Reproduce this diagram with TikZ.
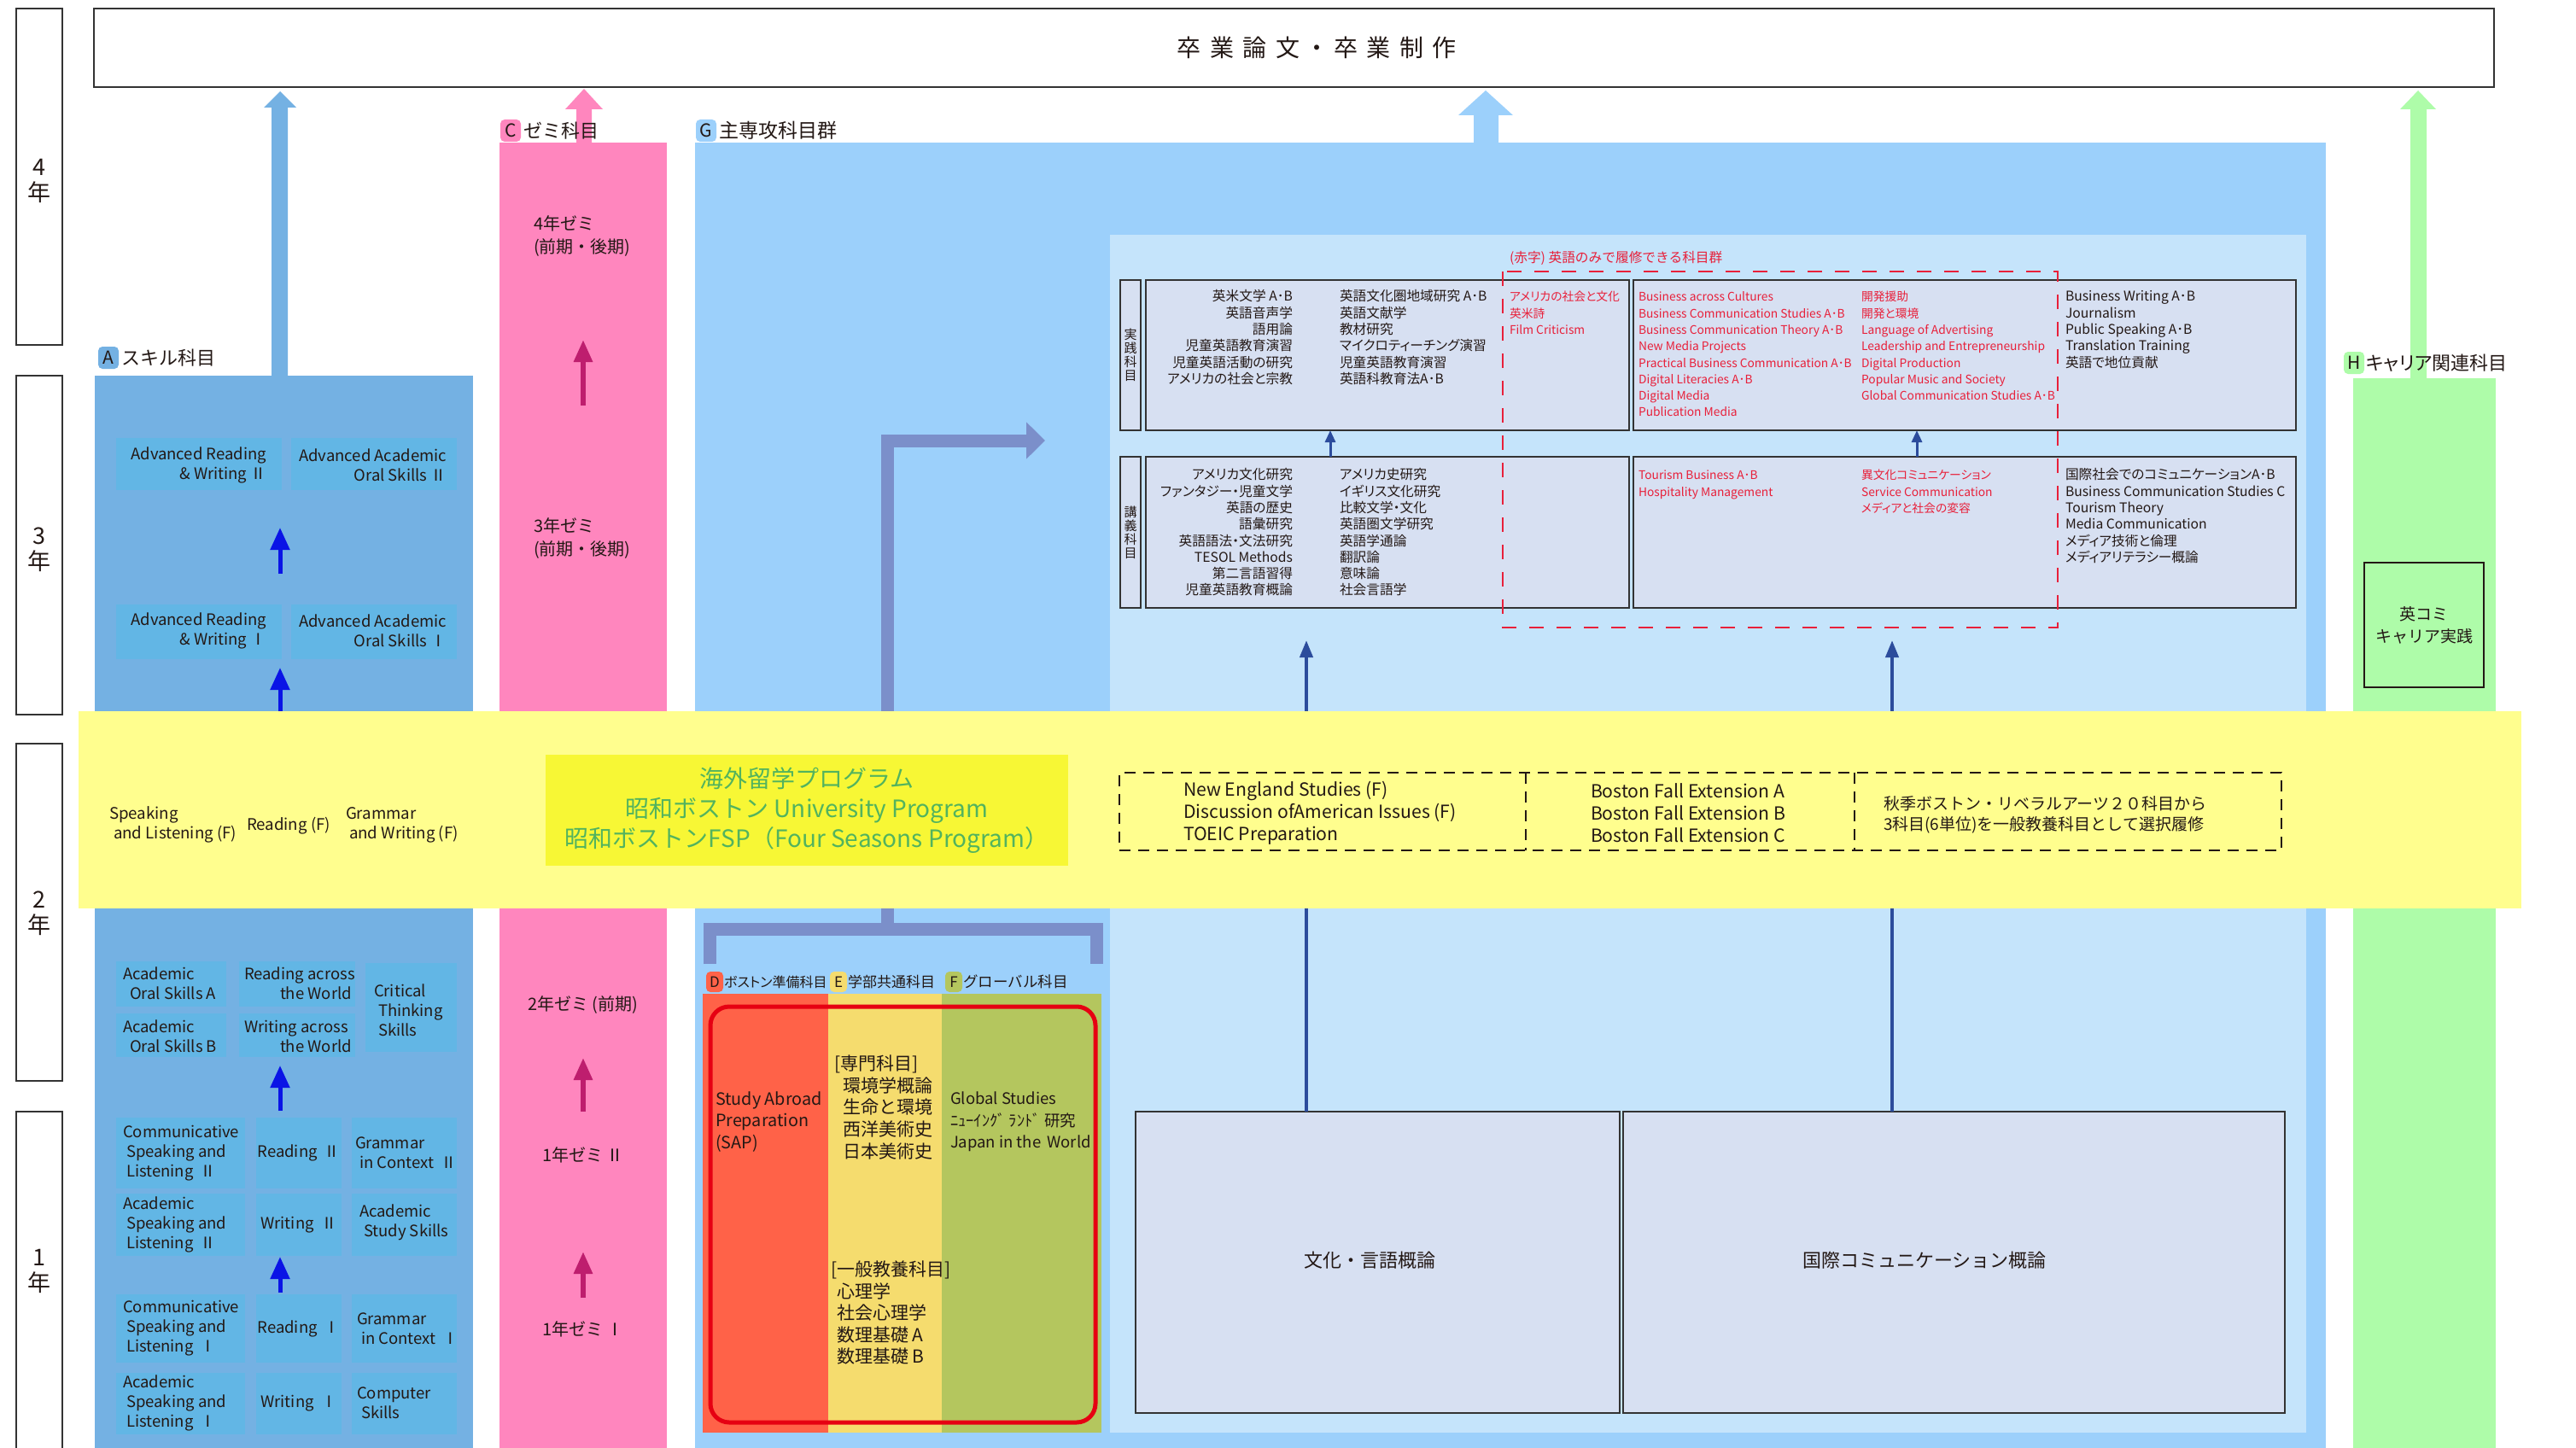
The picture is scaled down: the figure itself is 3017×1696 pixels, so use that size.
\documentclass[tikz,border=0pt]{standalone}
\usepackage{fontspec}
\setmainfont{Noto Sans CJK JP}
\newfontfamily\pf{Noto Sans CJK JP}[RawFeature=+palt]
\usetikzlibrary{arrows.meta,fit}
\definecolor{cA}{HTML}{74B1E3}
\definecolor{cAbox}{HTML}{62B6E5}
\definecolor{cC}{HTML}{FF86BE}
\definecolor{cG}{HTML}{9CD0FB}
\definecolor{cGin}{HTML}{C5E4FB}
\definecolor{cH}{HTML}{AEFCA9}
\definecolor{cY}{HTML}{FFFE8E}
\definecolor{cYb}{HTML}{F7F735}
\definecolor{cGreenT}{HTML}{52B35E}
\definecolor{cD}{HTML}{FF6248}
\definecolor{cE}{HTML}{F5DC6E}
\definecolor{cF}{HTML}{B4C65E}
\definecolor{cRed}{HTML}{E8203A}
\definecolor{cRedBox}{HTML}{E60012}
\definecolor{cBox}{HTML}{D7E0F2}
\definecolor{cSlate}{HTML}{7B8FCA}
\definecolor{cNavy}{HTML}{2C4C9C}
\definecolor{cBlueArr}{HTML}{0A14E6}
\definecolor{cMag}{HTML}{BE1E6E}
\definecolor{cTxt}{HTML}{231815}
\definecolor{cDark}{HTML}{333333}
\newcommand{\fs}[2]{\fontsize{#1pt}{#2pt}\selectfont}
\tikzset{
  rct/.style={inner sep=0pt, outer sep=0pt},
  tx/.style={inner sep=0pt, outer sep=0pt, text=cTxt},
  badge/.style={rounded corners=5pt, inner sep=0pt, minimum width=24pt, minimum height=26pt, text=cTxt, font=\fs{21}{24}},
  sbadge/.style={rounded corners=5pt, inner sep=0pt, minimum width=20pt, minimum height=24pt, text=cTxt, font=\fs{17}{20}},
  lbl/.style={tx, anchor=west, font=\fs{22}{24}},
  abox/.style={rct, fill=cAbox},
  atxt/.style={tx, font=\fs{18.5}{23}, align=left, anchor=west},
  barr/.style={draw=cBlueArr, line width=5pt, -{Triangle[length=26pt,width=22pt]}},
  parr/.style={draw=cMag, line width=6pt, -{Triangle[length=26pt,width=21pt]}},
  narr/.style={draw=cNavy, line width=4pt, -{Triangle[length=20pt,width=15pt]}},
  nsm/.style={draw=cNavy, line width=3pt, -{Triangle[length=14pt,width=12pt]}},
  gbox/.style={rct, draw=cDark, line width=2pt, fill=cBox},
  gtxt/.style={tx, font=\pf\fs{15.7}{19.3}, align=left, anchor=north west},
  rtxt/.style={gtxt, text=cRed, font=\pf\fs{13.8}{19.3}},
  ybox/.style={draw=cDark, line width=1.5pt},
  pinktxt/.style={tx, font=\fs{20}{27}, align=left, anchor=west},
  bandtxt/.style={tx, font=\fs{18.7}{23}, align=left, anchor=west},
  dashbox/.style={draw=cTxt, line width=2pt, dash pattern=on 13pt off 9pt},
  slate/.style={draw=cSlate, line width=15pt},
  dtxt/.style={tx, font=\fs{19.8}{25.5}, align=left, anchor=west}
}
\begin{document}
\begin{tikzpicture}[x=1pt,y=-1pt]
\useasboundingbox (0,0) rectangle (3017,1696);
\fill[white] (0,0) rectangle (3017,1696);

% ---------- year column ----------
\draw[ybox] (19,10) rectangle (73,404);
\draw[ybox] (19,440) rectangle (73,837);
\draw[ybox] (19,871) rectangle (73,1266);
\draw[ybox] (19,1302) rectangle (73,1710);
\node[tx, font=\fs{27}{30}, align=center] (yl4) at (46,212) {4\\年};
\node[tx, font=\fs{27}{30}, align=center] (yl3) at (46,644) {3\\年};
\node[tx, font=\fs{27}{30}, align=center] (yl2) at (46,1070) {2\\年};
\node[tx, font=\fs{27}{30}, align=center] (yl1) at (46,1489) {1\\年};

% ---------- top box ----------
\node[rct, fit={(110,10) (2921,102)}, draw=cDark, line width=2pt, fill=white] (topbox) {};
\node[tx, font=\fs{28}{30}] (toptxt) at (1542,56) {卒\hspace{10.5pt}業\hspace{10.5pt}論\hspace{10.5pt}文\hspace{6pt}・\hspace{6pt}卒\hspace{10.5pt}業\hspace{10.5pt}制\hspace{10.5pt}作};

% ---------- big up arrows ----------
\fill[cA] (318,441) -- (318,126) -- (309,126) -- (328,107) -- (347,126) -- (337,126) -- (337,441) -- cycle;
\fill[cC] (675,168) -- (675,128) -- (662,128) -- (684,104) -- (706,128) -- (693,128) -- (693,168) -- cycle;
\fill[cG] (1726,168) -- (1726,135) -- (1708,135) -- (1740,106) -- (1772,135) -- (1755,135) -- (1755,168) -- cycle;
\fill[cH] (2823,444) -- (2823,128) -- (2811,128) -- (2832,106) -- (2853,128) -- (2842,128) -- (2842,444) -- cycle;

% ---------- region fills ----------
\node[rct, fit={(111,440) (554,1700)}, fill=cA] (regA) {};
\node[rct, fit={(585,167) (781,1700)}, fill=cC] (regC) {};
\node[rct, fit={(814,167) (2724,1700)}, fill=cG] (regG) {};
\node[rct, fit={(2756,443) (2923,1700)}, fill=cH] (regH) {};
\node[rct, fit={(1300,275) (2701,1678)}, fill=cGin] (panel) {};

% ---------- labels ----------
\node[badge, fill=cA] (bA) at (127,419) {A};
\node[lbl] (lA) at ([xshift=3pt]bA.east) {スキル科目};
\node[badge, fill=cC] (bC) at (598,153) {C};
\node[lbl] (lC) at ([xshift=3pt]bC.east) {ゼミ科目};
\node[badge, fill=cG] (bG) at (827,153) {G};
\node[lbl, font=\fs{23}{25}] (lG) at ([xshift=3pt]bG.east) {主専攻科目群};
\node[badge, fill=cH] (bH) at (2757,425) {H};
\node[lbl, font=\pf\fs{22}{24}] (lH) at ([xshift=2pt]bH.east) {キャリア関連科目};

% ---------- H box ----------
\node[rct, fit={(2769,659) (2909,805)}, draw=cTxt, line width=1.5pt] (hbox) {};
\node[tx, font=\fs{19}{26}, align=center] (htxt) at (hbox.center) {英コミ\\キャリア実践};

% ---------- slate path in G ----------
\coordinate (slS) at (1039,1088);
\coordinate (slC) at (1039,516);
\coordinate (slT) at (1224,516);
\draw[slate, -{Triangle[length=22pt,width=42pt]}] (slS) -- (slC) -- (slT);
\draw[slate, line join=miter] (831,1129) -- (831,1088) -- (1284,1088) -- (1284,1129);

% ---------- G panel boxes ----------
\node[gbox, fit={(1312,328) (1336,504)}] (jl) {};
\node[tx, font=\fs{15}{16}, align=center] at (jl.center) {実\\践\\科\\目};
\node[gbox, fit={(1342,328) (1908,504)}] (jb1) {};
\node[gbox, fit={(1913,328) (2689,504)}] (jb2) {};
\node[gbox, fit={(1312,535) (1336,712)}] (kl) {};
\node[tx, font=\fs{15}{16}, align=center] at (kl.center) {講\\義\\科\\目};
\node[gbox, fit={(1342,535) (1908,712)}] (kb1) {};
\node[gbox, fit={(1913,535) (2689,712)}] (kb2) {};

% texts 実践
\node[gtxt, anchor=north east, align=right] (j1a) at (1514,339.3) {\strut 英米文学 A･B\\英語音声学\\語用論\\児童英語教育演習\\児童英語活動の研究\\アメリカの社会と宗教};
\node[gtxt] (j1b) at (1569,339.3) {\strut 英語文化圏地域研究 A･B\\英語文献学\\教材研究\\マイクロティーチング演習\\児童英語教育演習\\英語科教育法A･B};
\node[rtxt] (j1c) at (1768,339.3) {\strut アメリカの社会と文化\\英米詩\\Film Criticism};
\node[rtxt] (j2a) at (1919,339.3) {\strut Business across Cultures\\Business Communication Studies A･B\\Business Communication Theory A･B\\New Media Projects\\Practical Business Communication A･B\\Digital Literacies A･B\\Digital Media\\Publication Media};
\node[rtxt] (j2b) at (2180,339.3) {\strut 開発援助\\開発と環境\\Language of Advertising\\Leadership and Entrepreneurship\\Digital Production\\Popular Music and Society\\Global Communication Studies A･B};
\node[gtxt] (j2c) at (2419,339.3) {\strut Business Writing A･B\\Journalism\\Public Speaking A･B\\Translation Training\\英語で地位貢献};
% texts 講義
\node[gtxt, anchor=north east, align=right] (k1a) at (1514,548.3) {\strut アメリカ文化研究\\ファンタジー・児童文学\\英語の歴史\\語彙研究\\英語語法・文法研究\\TESOL Methods\\第二言語習得\\児童英語教育概論};
\node[gtxt] (k1b) at (1569,548.3) {\strut アメリカ史研究\\イギリス文化研究\\比較文学・文化\\英語圏文学研究\\英語学通論\\翻訳論\\意味論\\社会言語学};
\node[rtxt] (k2a) at (1919,548.3) {\strut Tourism Business A･B\\Hospitality Management};
\node[rtxt] (k2b) at (2180,548.3) {\strut 異文化コミュニケーション\\Service Communication\\メディアと社会の変容};
\node[gtxt] (k2c) at (2419,548.3) {\strut 国際社会でのコミュニケーションA･B\\Business Communication Studies C\\Tourism Theory\\Media Communication\\メディア技術と倫理\\メディアリテラシー概論};

% red dashed group
\draw[cRed, line width=2.5pt, dash pattern=on 17pt off 15pt] (1760,318) rectangle (2410,735);
\node[tx, anchor=west, text=cRed, font=\fs{15.7}{18}] (redlbl) at (1768,302) {(赤字) 英語のみで履修できる科目群};

% small arrows between rows
\coordinate (sa1) at (1558,0);
\coordinate (sa2) at (2245,0);
\draw[nsm] (kb1.north -| sa1) -- (jb1.south -| sa1);
\draw[nsm] (kb2.north -| sa2) -- (jb2.south -| sa2);

% big bottom boxes
\node[rct, fit={(1330,1302) (1897,1655)}, draw=cDark, line width=1.5pt, fill=cBox] (bx1) {};
\node[tx, font=\fs{22}{24}] (bx1t) at (1604,1476) {文化・言語概論};
\node[rct, fit={(1901,1302) (2676,1655)}, draw=cDark, line width=1.5pt, fill=cBox] (bx2) {};
\node[tx, font=\fs{22}{24}] (bx2t) at (2254,1476) {国際コミュニケーション概論};
\coordinate (na1) at (1530,750);
\coordinate (na2) at (2216,750);
\draw[narr] (bx1.north -| na1) -- (na1);
\draw[narr] (bx2.north -| na2) -- (na2);

% ---------- D / E / F ----------
\node[rct, fit={(823,1164) (970,1678)}, fill=cD] (colD) {};
\node[rct, fit={(970,1164) (1103,1678)}, fill=cE] (colE) {};
\node[rct, fit={(1103,1164) (1290,1678)}, fill=cF] (colF) {};
\node[rct, fit={(832,1179) (1283,1666)}, draw=cRedBox, line width=5pt, rounded corners=22pt] (sapframe) {};
\node[sbadge, fill=cD] (bD) at (837,1150) {D};
\node[tx, anchor=west, font=\pf\fs{16}{18}] (lD) at ([xshift=1pt]bD.east) {ボストン準備科目};
\node[sbadge, fill=cE] (bE) at (982,1150) {E};
\node[tx, anchor=west, font=\fs{17}{19}] (lE) at ([xshift=1pt]bE.east) {学部共通科目};
\node[sbadge, fill=cF] (bF) at (1117,1150) {F};
\node[tx, anchor=west, font=\fs{17.5}{19}] (lF) at ([xshift=1pt]bF.east) {グローバル科目};
\node[dtxt] (tD) at (838,1314) {Study Abroad\\Preparation\\(SAP)};
\node[dtxt, font=\fs{21}{25.7}] (tE1) at (977,1297) {[専門科目]\\\hspace*{10pt}環境学概論\\\hspace*{10pt}生命と環境\\\hspace*{10pt}西洋美術史\\\hspace*{10pt}日本美術史};
\node[dtxt, font=\fs{21}{25.5}] (tE2) at (973,1538) {[一般教養科目]\\\hspace*{7pt}心理学\\\hspace*{7pt}社会心理学\\\hspace*{7pt}数理基礎 A\\\hspace*{7pt}数理基礎 B};
\node[dtxt, font=\fs{18.5}{25.5}] (tF) at (1113,1314) {Global Studies\\ﾆｭｰｲﾝｸﾞ ﾗﾝﾄﾞ 研究\\Japan in the\, World};

% ---------- C column ----------
\node[pinktxt] (c4) at (625,277) {4年ゼミ\\(前期・後期)};
\node[pinktxt] (c3) at (625,631) {3年ゼミ\\(前期・後期)};
\node[pinktxt] (c2) at (618,1177) {2年ゼミ (前期)};
\node[tx, font=\fs{20}{24}] (c1b) at (683,1353) {1年ゼミ Ⅱ};
\node[tx, font=\fs{20}{24}] (c1a) at (683,1557) {1年ゼミ Ⅰ};
\coordinate (pa1s) at (683,475); \coordinate (pa1t) at (683,398);
\coordinate (pa2s) at (683,1302); \coordinate (pa2t) at (683,1239);
\coordinate (pa3s) at (683,1520); \coordinate (pa3t) at (683,1466);
\draw[parr] (pa1s) -- (pa1t);
\draw[parr] (pa2s) -- (pa2t);
\draw[parr] (pa3s) -- (pa3t);

% ---------- A column boxes ----------
\node[abox, fit={(136,513) (330,574)}] (bARW2) {};
\node[abox, fit={(341,513) (535,574)}] (bAAOS2) {};
\node[abox, fit={(136,708) (330,772)}] (bARW1) {};
\node[abox, fit={(341,708) (535,772)}] (bAAOS1) {};
\node[atxt, anchor=east, align=right] (tARW2) at (312,545) {Advanced Reading\\\& Writing Ⅱ};
\node[atxt, anchor=east, align=right] (tAAOS2) at (523,545) {Advanced Academic\\Oral Skills Ⅱ};
\node[atxt, anchor=east, align=right] (tARW1) at (312,739) {Advanced Reading\\\& Writing Ⅰ};
\node[atxt, anchor=east, align=right] (tAAOS1) at (523,739) {Advanced Academic\\Oral Skills Ⅰ};
\coordinate (aa1s) at (328,672); \coordinate (aa1t) at (328,618);
\draw[barr] (aa1s) -- (aa1t);

\node[abox, fit={(136,1126) (265,1179)}] (bAOSA) {};
\node[abox, fit={(280,1126) (416,1179)}] (bRAW) {};
\node[abox, fit={(428,1128) (535,1232)}] (bCTS) {};
\node[abox, fit={(136,1187) (265,1238)}] (bAOSB) {};
\node[abox, fit={(280,1187) (416,1238)}] (bWAW) {};
\node[abox, fit={(136,1309) (287,1392)}] (bCSL2) {};
\node[abox, fit={(300,1309) (400,1392)}] (bR2) {};
\node[abox, fit={(412,1309) (535,1392)}] (bG2) {};
\node[abox, fit={(136,1398) (287,1471)}] (bASL2) {};
\node[abox, fit={(300,1398) (400,1471)}] (bW2) {};
\node[abox, fit={(412,1398) (535,1471)}] (bASS) {};
\node[abox, fit={(136,1516) (287,1596)}] (bCSL1) {};
\node[abox, fit={(300,1516) (400,1596)}] (bR1) {};
\node[abox, fit={(412,1516) (535,1596)}] (bG1) {};
\node[abox, fit={(136,1608) (287,1680)}] (bASL1) {};
\node[abox, fit={(300,1608) (400,1680)}] (bW1) {};
\node[abox, fit={(412,1608) (535,1680)}] (bCS) {};

\node[atxt] (tAOSA) at (144,1152) {Academic\\\hspace*{8pt}Oral Skills A};
\node[atxt] (tAOSB) at (144,1214) {Academic\\\hspace*{8pt}Oral Skills B};
\node[atxt] (tRAW) at (286,1152) {Reading across\\\hspace*{42pt}the World};
\node[atxt] (tWAW) at (286,1214) {Writing across\\\hspace*{42pt}the World};
\node[atxt] (tCTS) at (438,1183) {Critical\\\hspace*{5pt}Thinking\\\hspace*{5pt}Skills};
\node[atxt] (tCSL2) at (144,1351) {Communicative\\\hspace*{4pt}Speaking and\\\hspace*{4pt}Listening\ \ Ⅱ};
\node[tx, font=\fs{18.5}{23}] (tR2) at (bR2.center) {Reading\ \ Ⅱ};
\node[atxt] (tG2) at (416,1350) {Grammar\\\hspace*{5pt}in Context\ \ Ⅱ};
\node[atxt] (tASL2) at (144,1434) {Academic\\\hspace*{4pt}Speaking and\\\hspace*{4pt}Listening\ \ Ⅱ};
\node[tx, font=\fs{18.5}{23}] (tW2) at (bW2.center) {Writing\ \ Ⅱ};
\node[atxt] (tASS) at (421,1432) {Academic\\\hspace*{5pt}Study Skills};
\node[atxt] (tCSL1) at (144,1556) {Communicative\\\hspace*{4pt}Speaking and\\\hspace*{4pt}Listening\ \ Ⅰ};
\node[tx, font=\fs{18.5}{23}] (tR1) at (bR1.center) {Reading\ \ Ⅰ};
\node[atxt] (tG1) at (418,1556) {Grammar\\\hspace*{5pt}in Context\ \ Ⅰ};
\node[atxt] (tASL1) at (144,1643) {Academic\\\hspace*{4pt}Speaking and\\\hspace*{4pt}Listening\ \ Ⅰ};
\node[tx, font=\fs{18.5}{23}] (tW1) at (bW1.center) {Writing\ \ Ⅰ};
\node[atxt] (tCS) at (418,1643) {Computer\\\hspace*{5pt}Skills};
\coordinate (aa3s) at (328,1301); \coordinate (aa3t) at (328,1248);
\coordinate (aa4s) at (328,1514); \coordinate (aa4t) at (328,1472);
\draw[barr] (aa3s) -- (aa3t);
\draw[barr] (aa4s) -- (aa4t);

% ---------- yellow band (year 2) ----------
\node[rct, fit={(92,833) (2953,1064)}, fill=cY] (band) {};
\coordinate (aa2t) at (328,782);
\draw[barr] (band.north -| aa2t) -- (aa2t);
\node[bandtxt] (ySL) at (128,966) {Speaking\\\hspace*{5pt}and Listening (F)};
\node[bandtxt] (yR) at (289,967) {Reading (F)};
\node[bandtxt] (yGW) at (405,966) {Grammar\\\hspace*{4pt}and Writing (F)};
\node[rct, fit={(639,884) (1251,1014)}, fill=cYb] (sabox) {};
\node[tx, text=cGreenT, align=center, font=\fs{28}{35}] (satxt) at (sabox.center) {海外留学プログラム\\昭和ボストン University Program\\昭和ボストンFSP（Four Seasons Program）};
\node[rct, fit={(1311,905) (2672,996)}, dashbox] (dbox) {};
\draw[dashbox] (1787,905) -- (1787,996);
\draw[dashbox] (2172,905) -- (2172,996);
\node[bandtxt, font=\fs{21.2}{26}] (yNE) at (1386,952) {New England Studies (F)\\Discussion ofAmerican Issues (F)\\TOEIC Preparation};
\node[bandtxt, font=\fs{21.2}{26}] (yBF) at (1863,952) {Boston Fall Extension A\\Boston Fall Extension B\\Boston Fall Extension C};
\node[bandtxt, font=\fs{19}{24}] (yLA) at (2206,954) {秋季ボストン・リベラルアーツ２０科目から\\3科目(6単位)を一般教養科目として選択履修};
\end{tikzpicture}
\end{document}
